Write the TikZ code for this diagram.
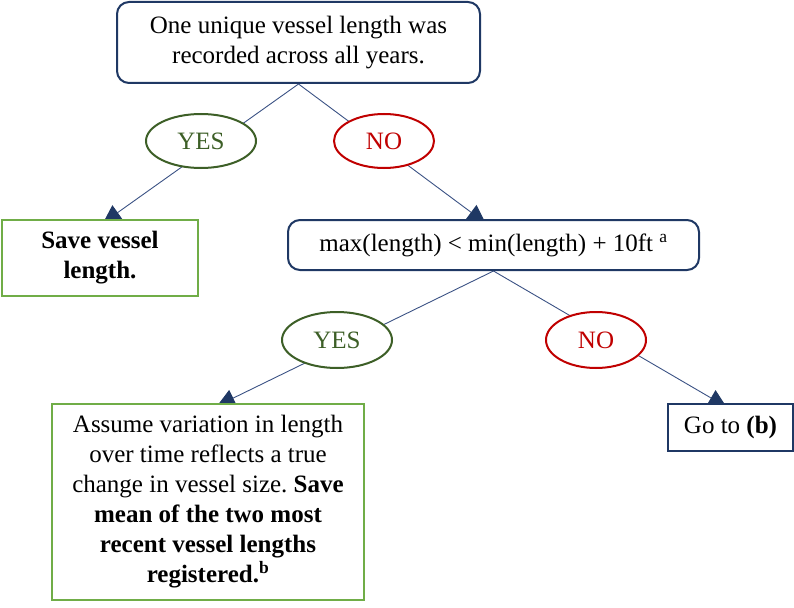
\documentclass[tikz,border=0pt]{standalone}
\usepackage{fontspec}
\setmainfont{Liberation Serif}
\usetikzlibrary{arrows.meta,shapes.geometric,backgrounds}
\frenchspacing
\definecolor{navy}{HTML}{1F3864}
\definecolor{linkblue}{HTML}{3B5284}
\definecolor{leafgreen}{HTML}{70AD47}
\definecolor{yesgreen}{HTML}{3D5F27}
\definecolor{nored}{HTML}{C00000}
\begin{document}
\begin{tikzpicture}[x=1pt,y=-1pt,
  every node/.style={font=\fontsize{25}{30}\selectfont, align=center, inner sep=0pt},
  question/.style={draw=navy, line width=2pt, rounded corners=12pt, fill=white},
  leaf/.style={draw=leafgreen, line width=2pt, fill=white},
  jump/.style={draw=navy, line width=2pt, fill=white},
  yesoval/.style={ellipse, draw=yesgreen, line width=2pt, fill=white, text=yesgreen},
  nooval/.style={ellipse, draw=nored, line width=2pt, fill=white, text=nored},
  conn/.style={draw=linkblue, line width=0.9pt,
    -{Triangle[width=18pt,length=18pt,fill=navy,color=navy]}}]
\useasboundingbox (0,0) rectangle (794,607);

% decision boxes
\node[question, minimum width=363pt, minimum height=81pt] (q1) at (298.5,42.5)
  {One unique vessel length was\\recorded across all years.};
\node[question, minimum width=411pt, minimum height=50pt] (q2) at (493.5,245)
  {max(length) < min(length) + 10ft \textsuperscript{a}};

% outcome boxes
\node[leaf, minimum width=196pt, minimum height=76pt] (save) at (100,258)
  {\bfseries Save vessel\\\bfseries length.};
\node[leaf, minimum width=312pt, minimum height=196pt] (mean) at (208,502)
  {Assume variation in length\\over time reflects a true\\change in vessel size. \textbf{Save}\\\bfseries mean of the two most\\\bfseries recent vessel lengths\\\bfseries registered.\textsuperscript{b}};
\node[jump, minimum width=125pt, minimum height=47pt] (goto) at (730.5,427.5)
  {Go to \textbf{(b)}};

% connectors run behind the boxes, so the tips are tucked under their edges
\begin{scope}[on background layer]
\draw[conn] (q1.south) -- ([xshift=3pt,yshift=-4pt]save.north);
\draw[conn] (q1.south) -- ([xshift=-8pt,yshift=-4pt]q2.north);
\draw[conn] (q2.south) -- ([xshift=9pt,yshift=-3pt]mean.north);
\draw[conn] (q2.south) -- ([xshift=-4pt,yshift=-4pt]goto.north);
\end{scope}

% answer ovals
\node[yesoval, minimum width=110pt, minimum height=54pt] (yes1) at (201,141) {YES};
\node[nooval, minimum width=100pt, minimum height=54pt] (no1) at (384,141) {NO};
\node[yesoval, minimum width=110pt, minimum height=56pt] (yes2) at (337,340) {YES};
\node[nooval, minimum width=100pt, minimum height=56pt] (no2) at (596,340) {NO};
\end{tikzpicture}
\end{document}
